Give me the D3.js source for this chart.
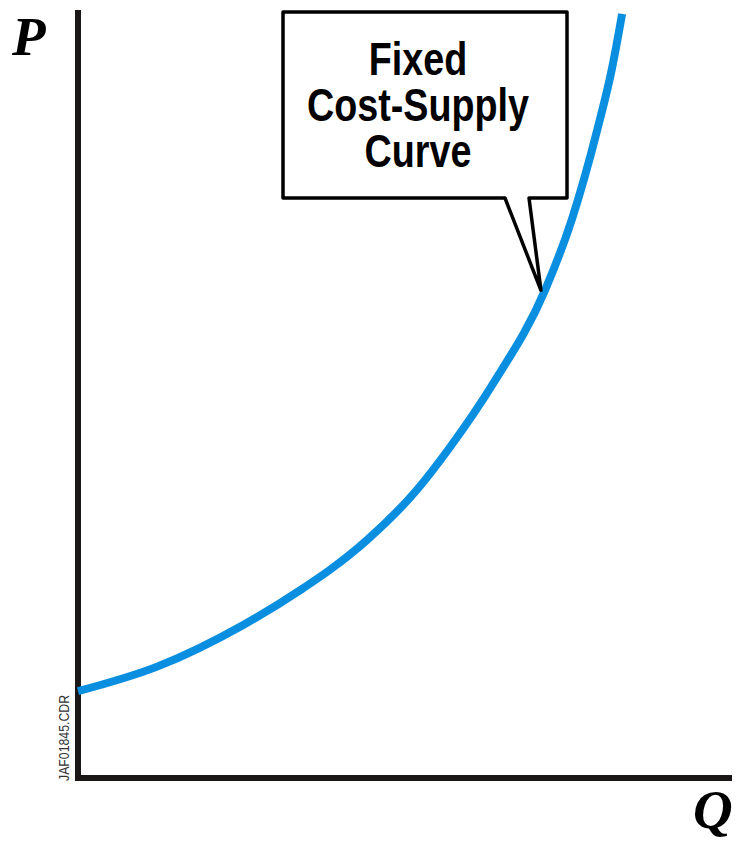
<!DOCTYPE html>
<html>
<head>
<meta charset="utf-8">
<script src="https://cdn.jsdelivr.net/npm/d3@7"></script>
<style>
  body { margin: 0; background: #fff; }
</style>
</head>
<body>
<svg width="739" height="846"></svg>
<script>
// supply curve (arbitrary 0-10 units)
var quantity = [0, 1.21, 2.52, 3.44, 3.85, 4.42, 5.18, 5.69, 6.35, 7.14, 7.55, 7.94, 8.17, 8.32];
var price    = [1.13, 1.45, 1.99, 2.47, 2.71, 3.10, 3.75, 4.31, 5.14, 6.35, 7.27, 8.44, 9.26, 9.95];

var calloutLines = ["Fixed", "Cost-Supply", "Curve"];
var calloutAt = 9;          // index of the curve point the callout points to
var fileTag = "JAF01845.CDR";

var svg = d3.select("svg");

var x = d3.scaleLinear().domain([0, 10]).range([78, 732]),
    y = d3.scaleLinear().domain([0, 10]).range([778, 10]);

var axisColor = "#1b1717",
    curveColor = "#0a8fe0",
    sans = "'Liberation Sans', Arial, sans-serif",
    serif = "'Liberation Serif', 'Times New Roman', serif";

// axes - plain lines, no ticks
svg.append("line")
  .attr("x1", x(0)).attr("x2", x(0))
  .attr("y1", y(10)).attr("y2", y(0) + 3)
  .attr("stroke", axisColor).attr("stroke-width", 6);

svg.append("line")
  .attr("x1", x(0) - 3).attr("x2", x(10))
  .attr("y1", y(0)).attr("y2", y(0))
  .attr("stroke", axisColor).attr("stroke-width", 6);

// axis letters
svg.append("text")
  .text("P")
  .attr("x", 12).attr("y", 55)
  .attr("font-family", serif)
  .attr("font-weight", "bold").attr("font-style", "italic")
  .attr("font-size", "55px");

svg.append("text")
  .text("Q")
  .attr("x", 693).attr("y", 828)
  .attr("font-family", serif)
  .attr("font-weight", "bold").attr("font-style", "italic")
  .attr("font-size", "55px");

// little file tag next to the axis (narrowed arial)
svg.append("text")
  .text(fileTag)
  .attr("transform", "translate(69,781) rotate(-90) scale(0.82,1)")
  .attr("font-family", sans)
  .attr("font-size", "15px")
  .attr("fill", "#333");

// the curve
var pts = quantity.map(function(q, i) { return [q, price[i]]; });

var line = d3.line()
  .x(function(d) { return x(d[0]); })
  .y(function(d) { return y(d[1]); })
  .curve(d3.curveMonotoneX);

svg.append("path")
  .datum(pts)
  .attr("d", line)
  .attr("fill", "none")
  .attr("stroke", curveColor)
  .attr("stroke-width", 8);

// speech-bubble callout, tip touches the left edge of the curve
var tip = [x(pts[calloutAt][0]) - 4, y(pts[calloutAt][1])];
var box = {left: 283, top: 12, right: 567, bottom: 198};

var bubble = d3.path();
bubble.moveTo(box.left, box.top);
bubble.lineTo(box.right, box.top);
bubble.lineTo(box.right, box.bottom);
bubble.lineTo(529, box.bottom);
bubble.lineTo(tip[0], tip[1]);
bubble.lineTo(505, box.bottom);
bubble.lineTo(box.left, box.bottom);
bubble.closePath();

svg.append("path")
  .attr("d", bubble.toString())
  .attr("fill", "#fff")
  .attr("stroke", "#000")
  .attr("stroke-width", 3.5)
  .attr("stroke-linejoin", "round");

svg.append("g")
  .selectAll("text")
  .data(calloutLines)
  .join("text")
  .text(function(d) { return d; })
  .attr("transform", function(d, i) {
    return "translate(418," + (75 + i * 46) + ") scale(0.82,1)";
  })
  .attr("text-anchor", "middle")
  .attr("font-family", sans)
  .attr("font-weight", "bold")
  .attr("font-size", "46px");
</script>
</body>
</html>
